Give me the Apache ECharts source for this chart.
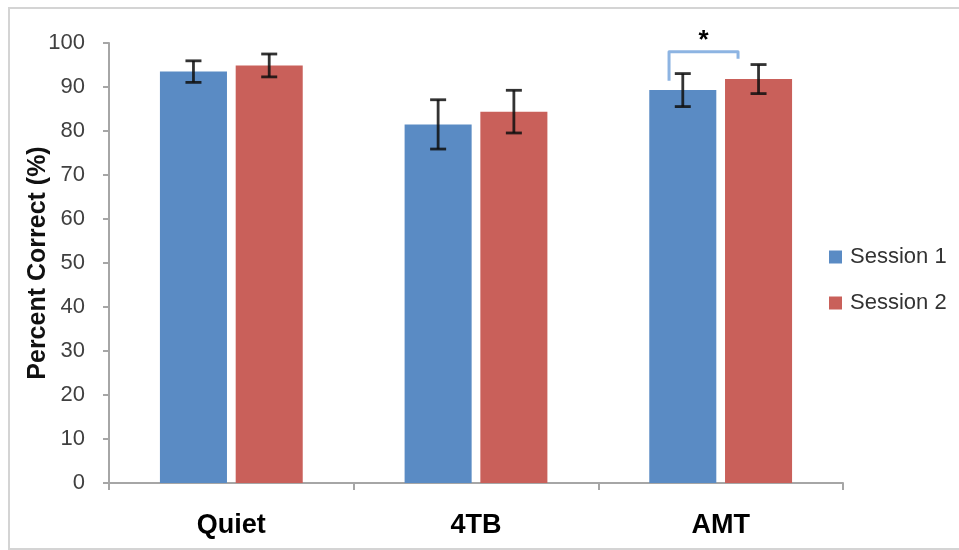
<!DOCTYPE html>
<html>
<head>
<meta charset="utf-8">
<script src="https://cdn.jsdelivr.net/npm/echarts@6/dist/echarts.min.js"></script>
<style>html,body{margin:0;padding:0;background:#fff;}#chart{width:959px;height:550px;}</style>
</head>
<body>
<div id="chart"></div>
<script>
const categories = ['Quiet', '4TB', 'AMT'];
const seriesNames = ['Session 1', 'Session 2'];
const session1 = [93.5, 81.5, 89.3];
const session1Err = [2.45, 5.6, 3.75];
const session2 = [94.9, 84.4, 91.8];
const session2Err = [2.6, 4.85, 3.3];
// significance bracket on AMT: [left foot, top, right foot]
const sigCategoryIndex = 2;
const sigLevels = [91.4, 98, 96.4];
const sigLabel = '*';
const yMin = 0, yMax = 100, yStep = 10;

const FONT = 'Liberation Sans';
const BAR_W = 0.274, BAR_GAP = 0.13;
const colors = ['#5a8bc4', '#c9605a'];

const errData = [];
categories.forEach((c, i) => {
  errData.push([i, session1[i] - session1Err[i], session1[i] + session1Err[i], -1]);
  errData.push([i, session2[i] - session2Err[i], session2[i] + session2Err[i], 1]);
});

const chart = echarts.init(document.getElementById('chart'), null, {renderer: 'canvas'});
chart.setOption({
  animation: false,
  backgroundColor: '#fff',
  color: colors,
  graphic: [{
    type: 'rect', shape: {x: 9, y: 8, width: 980, height: 541},
    style: {fill: 'none', stroke: '#d4d4d4', lineWidth: 2}, silent: true, z: -1
  }],
  grid: {left: 109, right: 116, top: 43, bottom: 67},
  legend: {
    data: seriesNames, orient: 'vertical', left: 824, top: 241,
    icon: 'rect', itemWidth: 13, itemHeight: 13, itemGap: 24,
    textStyle: {fontFamily: FONT, fontSize: 22, color: '#333', padding: [0, 0, 0, 3]}
  },
  xAxis: {
    type: 'category', data: categories,
    axisLine: {lineStyle: {color: '#a6a6a6', width: 2}},
    axisTick: {show: true, length: 7, lineStyle: {color: '#a6a6a6', width: 2}},
    axisLabel: {fontFamily: FONT, fontSize: 27, fontWeight: 'bold', color: '#000', margin: 29}
  },
  yAxis: {
    type: 'value', min: yMin, max: yMax, interval: yStep,
    name: 'Percent Correct (%)', nameLocation: 'middle', nameGap: 58, nameMoveOverlap: false,
    nameTextStyle: {fontFamily: FONT, fontSize: 25, fontWeight: 'bold', color: '#111'},
    splitLine: {show: false},
    axisLine: {show: true, lineStyle: {color: '#a6a6a6', width: 2}},
    axisTick: {show: true, length: 6, lineStyle: {color: '#a6a6a6', width: 2}},
    axisLabel: {fontFamily: FONT, fontSize: 22, color: '#404040', margin: 24}
  },
  series: [
    {name: seriesNames[0], type: 'bar', data: session1, barWidth: (BAR_W * 100) + '%', barGap: (BAR_GAP * 100) + '%'},
    {name: seriesNames[1], type: 'bar', data: session2, barWidth: (BAR_W * 100) + '%', barGap: (BAR_GAP * 100) + '%'},
    {
      type: 'custom', data: errData, z: 5, clip: false,
      encode: {x: 0, y: [1, 2]},
      renderItem: function (params, api) {
        const ci = api.value(0), lo = api.value(1), hi = api.value(2), side = api.value(3);
        const bw = api.size([1, 0])[0];
        const off = side * bw * BAR_W * (1 + BAR_GAP) / 2;
        const pLo = api.coord([ci, lo]), pHi = api.coord([ci, hi]);
        const x = pLo[0] + off, cap = 8;
        const st = {stroke: 'rgba(15,15,15,0.85)', lineWidth: 2.8};
        return {type: 'group', children: [
          {type: 'line', shape: {x1: x, y1: pHi[1], x2: x, y2: pLo[1]}, style: st},
          {type: 'line', shape: {x1: x - cap, y1: pHi[1], x2: x + cap, y2: pHi[1]}, style: st},
          {type: 'line', shape: {x1: x - cap, y1: pLo[1], x2: x + cap, y2: pLo[1]}, style: st}
        ]};
      }
    },
    {
      type: 'custom', data: [[sigCategoryIndex, sigLevels[0], sigLevels[1], sigLevels[2]]], z: 6, clip: false,
      encode: {x: 0, y: [1, 2, 3]},
      renderItem: function (params, api) {
        const ci = api.value(0);
        const bw = api.size([1, 0])[0];
        const c = api.coord([ci, sigLevels[1]]);
        const xl = c[0] - 0.211 * bw, xr = c[0] + 0.071 * bw;
        const yl = api.coord([ci, api.value(1)])[1];
        const yt = api.coord([ci, api.value(2)])[1];
        const yr = api.coord([ci, api.value(3)])[1];
        const ya = api.coord([ci, 100.6])[1];
        return {type: 'group', children: [
          {type: 'polyline', shape: {points: [[xl, yl], [xl, yt], [xr, yt], [xr, yr]]},
           style: {stroke: '#8db4e2', lineWidth: 3, fill: 'none', lineJoin: 'round'}},
          {type: 'text', style: {text: sigLabel, x: (xl + xr) / 2, y: ya, align: 'center', verticalAlign: 'middle',
           font: 'bold 26px "Liberation Sans"', fill: '#000'}}
        ]};
      }
    }
  ]
});
</script>
</body>
</html>
